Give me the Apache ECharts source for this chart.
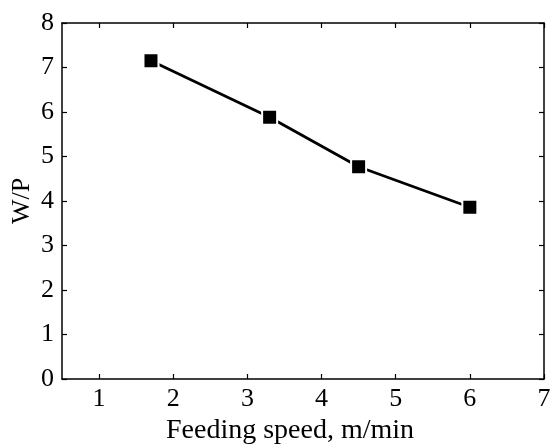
<!DOCTYPE html>
<html>
<head>
<meta charset="utf-8">
<script src="https://cdn.jsdelivr.net/npm/echarts@6/dist/echarts.min.js"></script>
<style>
	html, body { margin: 0; padding: 0; background: #fff; }
	#chart { width: 551px; height: 446px; }
</style>
</head>
<body>
<div id="chart"></div>
<script>
const feedSpeed = [ 1.7, 3.3, 4.5, 6.0 ];
const wpRatio = [ 7.15, 5.88, 4.77, 3.86 ];
const xTicks = [ 1, 2, 3, 4, 5, 6, 7 ];

const serif = 'Liberation Serif';
const fontSize = 26;
const axisLine = { show: true, onZero: false, lineStyle: { color: '#000', width: 1.5 } };
const tickStyle = { show: true, inside: true, length: 5, lineStyle: { color: '#000', width: 1.2 } };
const xTickStyle = Object.assign( {}, tickStyle, { customValues: xTicks } );

const chart = echarts.init( document.getElementById( 'chart' ) );

chart.setOption( {
	animation: false,
	grid: { left: 62, right: 7, top: 23, bottom: 67, outerBoundsMode: 'none', containLabel: false },
	xAxis: [
		{
			type: 'value',
			min: 0.5,
			max: 7,
			position: 'bottom',
			name: 'Feeding speed, m/min',
			nameLocation: 'middle',
			nameGap: 38,
			nameTextStyle: { fontFamily: serif, fontSize: 28, color: '#000', padding: [ 0, 26, 0, 0 ] },
			axisLine: axisLine,
			axisTick: xTickStyle,
			splitLine: { show: false },
			axisLabel: {
				fontFamily: serif,
				fontSize: fontSize,
				color: '#000',
				margin: 7,
				customValues: xTicks
			}
		},
		{
			type: 'value',
			min: 0.5,
			max: 7,
			position: 'top',
			axisLine: axisLine,
			axisTick: xTickStyle,
			axisLabel: { show: false },
			splitLine: { show: false }
		}
	],
	yAxis: [
		{
			type: 'value',
			min: 0,
			max: 8,
			interval: 1,
			position: 'left',
			name: 'W/P',
			nameLocation: 'middle',
			nameGap: 27,
			nameMoveOverlap: false,
			nameTextStyle: { fontFamily: serif, fontSize: fontSize, color: '#000' },
			axisLine: axisLine,
			axisTick: tickStyle,
			splitLine: { show: false },
			axisLabel: {
				fontFamily: serif,
				fontSize: fontSize,
				color: '#000',
				margin: 8
			}
		},
		{
			type: 'value',
			min: 0,
			max: 8,
			interval: 1,
			position: 'right',
			axisLine: axisLine,
			axisTick: tickStyle,
			axisLabel: { show: false },
			splitLine: { show: false }
		}
	],
	series: [
		{
			type: 'line',
			data: feedSpeed.map( ( x, i ) => [ x, wpRatio[ i ] ] ),
			symbol: 'rect',
			symbolSize: 15,
			lineStyle: { color: '#000', width: 2.8 },
			itemStyle: { color: '#000', borderColor: '#fff', borderWidth: 2 }
		}
	]
} );
</script>
</body>
</html>
